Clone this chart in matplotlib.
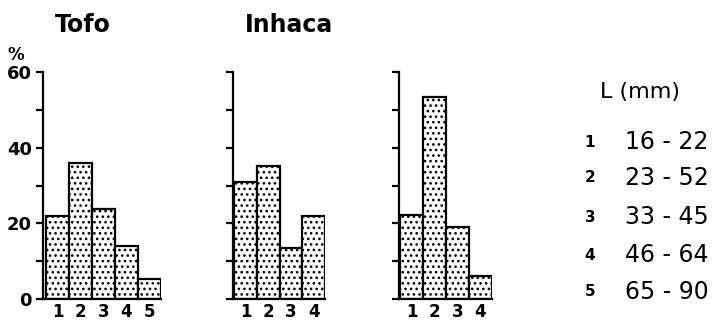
import matplotlib
matplotlib.use( 'Agg' )
import matplotlib.pyplot as plt
import numpy as np

#-------------------------------------------------------------------------
# data
#-------------------------------------------------------------------------

tofo_pct    = [ 22, 36, 23.7, 14.1, 5.2 ]
inhaca_pct  = [ 31, 35.2, 13.4, 21.9 ]
third_pct   = [ 22.2, 53.5, 19.1, 6.1 ]
panel_names = [ 'Tofo', 'Inhaca', '' ]

class_ids    = [ '1', '2', '3', '4', '5' ]
class_ranges = [ '16 - 22', '23 - 52', '33 - 45', '46 - 64', '65 - 90' ]

ytick_vals   = [ 0, 10, 20, 30, 40, 50, 60 ]
ytick_labels = [ '0', '', '20', '', '40', '', '60' ]

#-------------------------------------------------------------------------
# figure
#-------------------------------------------------------------------------

plt.rcParams['font.family']     = 'DejaVu Sans'
plt.rcParams['hatch.linewidth'] = 1.1
plt.rcParams['hatch.color']     = 'black'

W, H = 713, 321
fig = plt.figure( figsize=(W/100, H/100), dpi=100 )

# axes boxes in pixels: left, width, x-gap before first bar
boxes = [ ( 43, 118, 0.13 ), ( 233, 92, 0.05 ), ( 399, 93, 0.05 ) ]
datas = [ tofo_pct, inhaca_pct, third_pct ]

for i, ( data, ( left, width, gap ) ) in enumerate( zip( datas, boxes ) ):
  ax  = fig.add_axes([ left/W, (H-299)/H, width/W, 227/H ])
  ind = np.arange( 1, len(data) + 1 )
  ax.bar( ind, data, 1.0, color='white', edgecolor='black',
          linewidth=1.6, hatch='...' )
  ax.set_xlim( 0.5 - gap, len(data) + 0.5 )
  ax.set_ylim( 0, 60 )

  for side in [ 'top', 'right' ]:
    ax.spines[side].set_visible( False )
  for side in [ 'left', 'bottom' ]:
    ax.spines[side].set_linewidth( 1.6 )

  ax.set_yticks( ytick_vals )
  if i == 0:
    ax.set_yticklabels( ytick_labels, fontsize=13, fontweight='bold' )
  else:
    ax.set_yticklabels( [ '' for _ in ytick_vals ] )
  ax.tick_params( axis='y', direction='out', length=5, width=1.6, pad=3 )

  ax.set_xticks( ind )
  ax.set_xticklabels( class_ids[:len(data)], fontsize=12, fontweight='bold' )
  ax.tick_params( axis='x', length=0, pad=3 )

  if panel_names[i]:
    fig.text( (left + 12)/W, 1 - 25/H, panel_names[i], fontsize=17,
              fontweight='bold', ha='left', va='center' )

# percent sign above the first y axis
fig.text( 8/W, 1 - 55/H, '%', fontsize=12, fontweight='bold',
          ha='left', va='center' )

#-------------------------------------------------------------------------
# legend of length classes
#-------------------------------------------------------------------------

fig.text( 600/W, 1 - 92/H, 'L (mm)', fontsize=16, ha='left', va='center' )
row_y = [ 142, 178, 217, 255, 292 ]
for cid, rng, y in zip( class_ids, class_ranges, row_y ):
  fig.text( 590/W, 1 - y/H, cid, fontsize=11, fontweight='bold',
            ha='center', va='center' )
  fig.text( 625/W, 1 - y/H, rng, fontsize=17, ha='left', va='center' )

fig.savefig( 'out.png', dpi=100 )
